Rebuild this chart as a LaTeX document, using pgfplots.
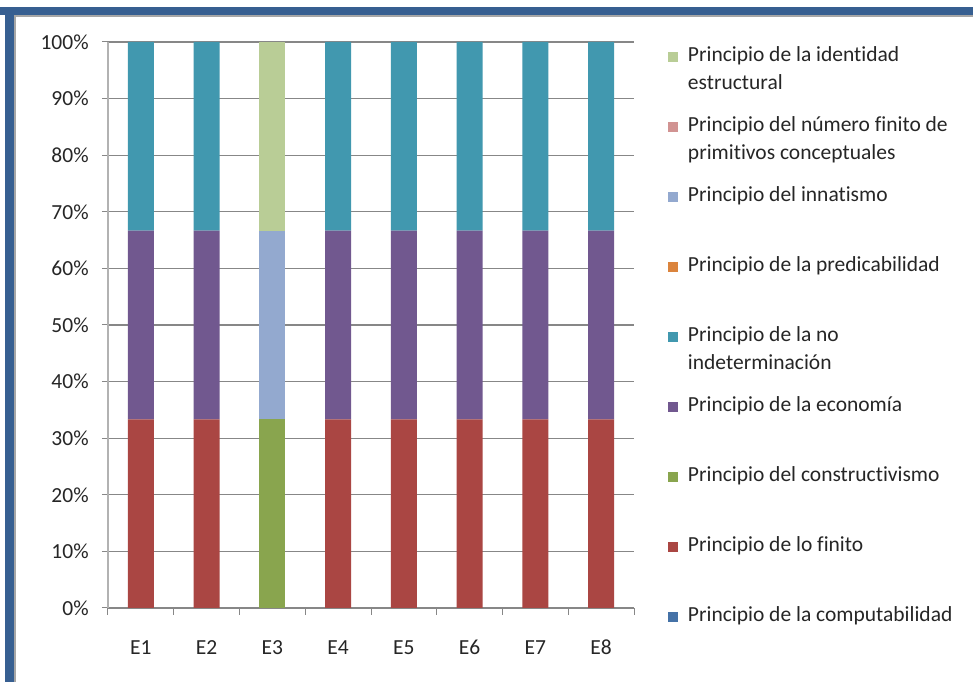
\documentclass[border=0pt]{standalone}
\usepackage{fontspec}
\setmainfont{Carlito}[Ligatures=NoCommon]
\usepackage{pgfplots}
\pgfplotsset{compat=1.18}
\usepackage{pgfplotstable}
\definecolor{cComp}{HTML}{4572A7}
\definecolor{cFin}{HTML}{AA4643}
\definecolor{cCons}{HTML}{89A54E}
\definecolor{cEco}{HTML}{71588F}
\definecolor{cNoInd}{HTML}{4198AF}
\definecolor{cPred}{HTML}{DB843D}
\definecolor{cInn}{HTML}{93A9CF}
\definecolor{cNum}{HTML}{D19392}
\definecolor{cIde}{HTML}{B9CD96}
\definecolor{frameblue}{HTML}{375F91}
\definecolor{gridgray}{HTML}{878787}
\pgfplotstableread{
x comp fin cons eco noind pred inn num ide
1 0 33.333 0 33.333 33.334 0 0 0 0
2 0 33.333 0 33.333 33.334 0 0 0 0
3 0 0 33.333 0 0 0 33.333 0 33.334
4 0 33.333 0 33.333 33.334 0 0 0 0
5 0 33.333 0 33.333 33.334 0 0 0 0
6 0 33.333 0 33.333 33.334 0 0 0 0
7 0 33.333 0 33.333 33.334 0 0 0 0
8 0 33.333 0 33.333 33.334 0 0 0 0
}\data
\newcommand{\second}[1]{\makebox[0pt][l]{\raisebox{-28bp}[0pt][0pt]{#1}}}
\newcommand{\fs}{\fontsize{21.5bp}{25bp}\selectfont}
\begin{document}
\fs
\begin{tikzpicture}
\useasboundingbox (0,0) rectangle (973bp,682bp);
\fill[white] (0,0) rectangle (973bp,682bp);
% frame decoration
\fill[frameblue] (0,667bp) rectangle (973bp,675bp);
\fill[frameblue] (5bp,0) rectangle (14bp,675bp);
\fill[gray!70] (14bp,0) rectangle (16bp,667bp);
\fill[gray!70] (14bp,665bp) rectangle (973bp,667bp);
\begin{axis}[
  at={(108bp,74bp)}, anchor=south west,
  scale only axis, width=526bp, height=566bp,
  ybar stacked, bar width=26bp,
  xmin=0.5, xmax=8.5, ymin=0, ymax=100,
  xtick={1,...,8}, xticklabels={E1,E2,E3,E4,E5,E6,E7,E8},
  major x tick style={draw=none},
  minor xtick={0.5,1.5,...,8.5},
  minor x tick style={gridgray, line width=1bp},
  minor tick length=7bp,
  ytick={0,10,...,100},
  yticklabel={\pgfmathprintnumber{\tick}\%},
  /pgf/number format/assume math mode=true,
  axis lines=left, axis line style={-},
  x axis line style={gridgray, line width=1.2bp},
  y axis line style={gray!60, line width=1.2bp},
  tick align=outside, major tick length=6bp,
  y tick style={gridgray, line width=1bp},
  ymajorgrids, major grid style={gridgray, line width=1.2bp},
  tick label style={font=\fs, text=black!85},
  yticklabel style={xshift=-6bp},
  xticklabel style={yshift=-19bp, text height=14bp, text depth=0bp},
  reverse legend,
  legend image code/.code={\fill[#1] (0bp,-5bp) rectangle (10bp,5bp);},
  legend style={draw=none, fill=none, at={(1.0646,0.989)}, anchor=north west,
    inner sep=0pt, outer sep=0pt, row sep=53bp, column sep=10bp,
    cells={anchor=west},
    nodes={inner sep=0pt, text height=13bp, text depth=4bp, text=black!85,
      font=\fs}},
]
\addplot[fill=cComp, draw=none] table[x=x,y=comp]{\data};
\addlegendentry{Principio de la computabilidad}
\addplot[fill=cFin, draw=none] table[x=x,y=fin]{\data};
\addlegendentry{Principio de lo finito}
\addplot[fill=cCons, draw=none] table[x=x,y=cons]{\data};
\addlegendentry{Principio del constructivismo}
\addplot[fill=cEco, draw=none] table[x=x,y=eco]{\data};
\addlegendentry{Principio de la economía}
\addplot[fill=cNoInd, draw=none] table[x=x,y=noind]{\data};
\addlegendentry{\second{indeterminación}Principio de la no}
\addplot[fill=cPred, draw=none] table[x=x,y=pred]{\data};
\addlegendentry{Principio de la predicabilidad}
\addplot[fill=cInn, draw=none] table[x=x,y=inn]{\data};
\addlegendentry{Principio del innatismo}
\addplot[fill=cNum, draw=none] table[x=x,y=num]{\data};
\addlegendentry{\second{primitivos conceptuales}Principio del número finito de}
\addplot[fill=cIde, draw=none] table[x=x,y=ide]{\data};
\addlegendentry{\second{estructural}Principio de la identidad}
\end{axis}
\end{tikzpicture}
\end{document}
